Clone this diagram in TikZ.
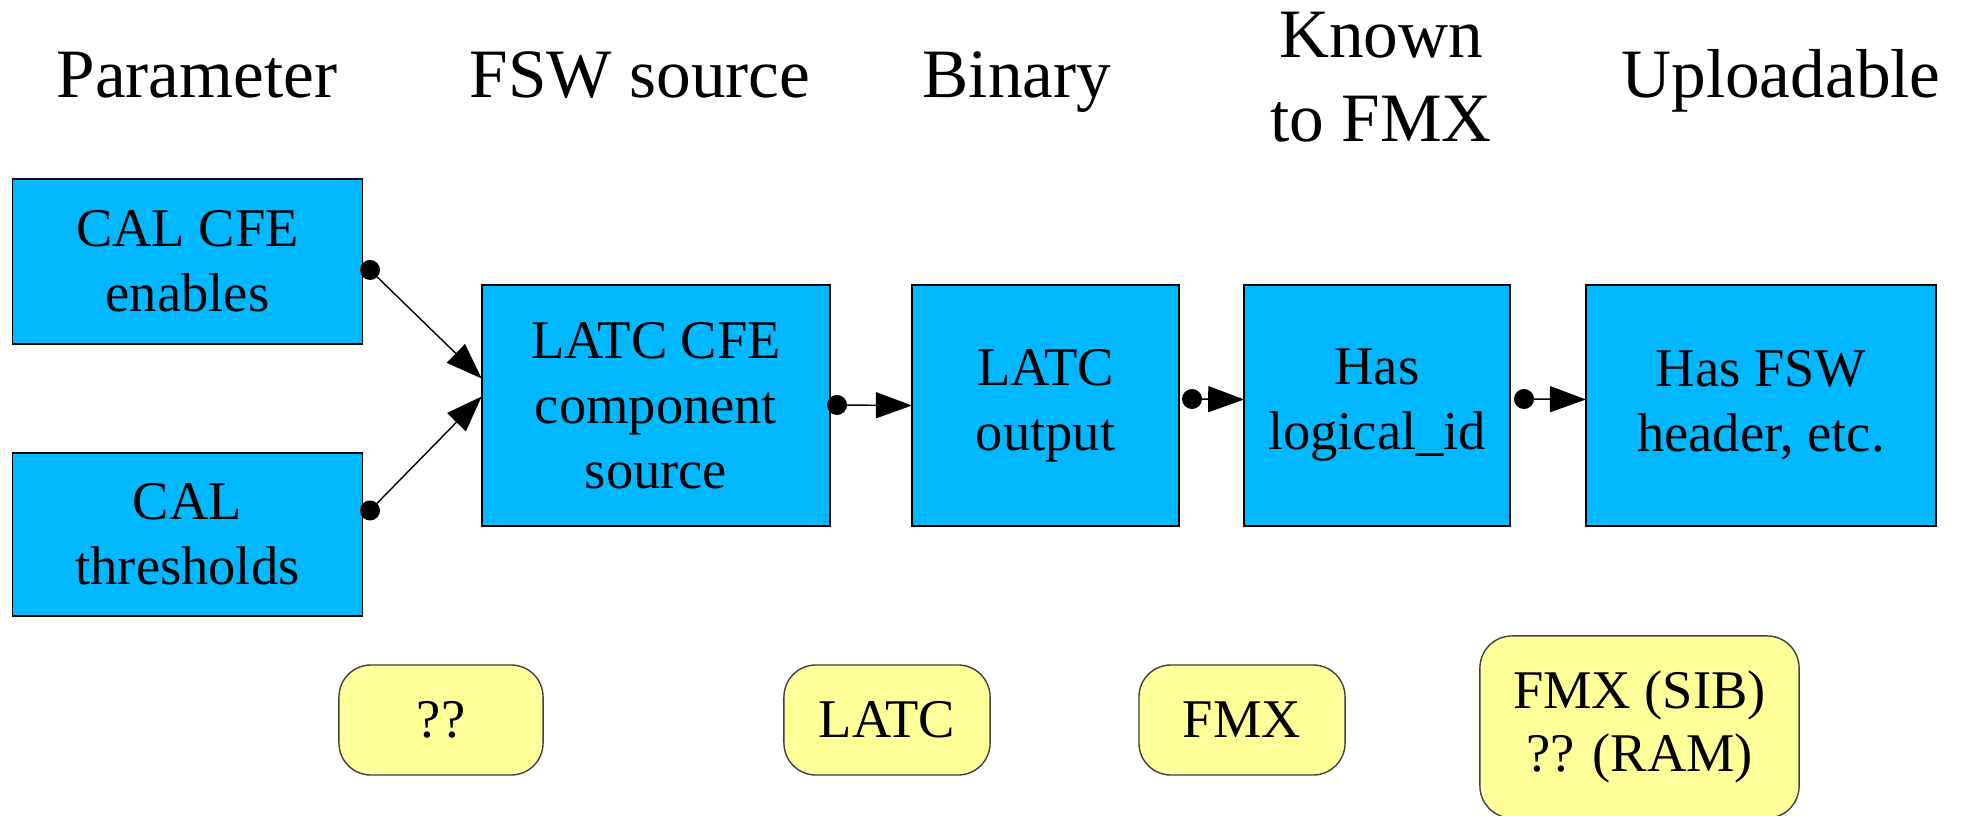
\documentclass[tikz,border=0pt]{standalone}
\usepackage{fontspec}
\setmainfont{Liberation Serif}
\newfontfamily\diagfont{Liberation Serif}
\usetikzlibrary{arrows.meta,calc}
\definecolor{boxblue}{RGB}{0,184,255}
\definecolor{noteyellow}{RGB}{255,255,153}
\begin{document}
\begin{tikzpicture}[x=0.01cm,y=-0.01cm,
 stagebox/.style={draw=black, line width=0.5pt, fill=boxblue, inner sep=0pt, outer sep=0pt, align=center, font=\diagfont\fontsize{15.5pt}{18.5pt}\selectfont},
 tool/.style={draw=black!75, line width=0.4pt, fill=noteyellow, rounded corners=0.32cm, inner sep=0pt, outer sep=0pt, align=center, font=\diagfont\fontsize{15.5pt}{18pt}\selectfont},
 head/.style={inner sep=0pt, align=center, font=\diagfont\fontsize{19.7pt}{24pt}\selectfont},
 conn/.style={line width=0.4pt, -{Triangle[length=0.36cm,width=0.26cm]}}]
\clip (0,0) rectangle (1967,816);
% headers
\node[head, anchor=base] (h1) at (197,98) {Parameter};
\node[head, anchor=base] (h2) at (640,98) {FSW source};
\node[head, anchor=base] (h3) at (1017,98) {Binary};
\node[head] (h4) at (1381,77) {Known\\to FMX};
\node[head, anchor=base] (h5) at (1781,98) {Uploadable};
% stage boxes
\node[stagebox, minimum width=3.5cm, minimum height=1.65cm] (cfe) at (187.5,261.5) {CAL CFE\\enables};
\node[stagebox, minimum width=3.5cm, minimum height=1.63cm] (thr) at (187.5,534.5) {CAL\\thresholds};
\node[stagebox, minimum width=3.485cm, minimum height=2.41cm] (src) at (656,405.5) {LATC CFE\\component\\source};
\node[stagebox, minimum width=2.67cm, minimum height=2.41cm] (bin) at (1045.5,405.5) {LATC\\output};
\node[stagebox, minimum width=2.655cm, minimum height=2.41cm] (fmx) at (1377,405.5) {Has\\logical\_id};
\node[stagebox, minimum width=3.5cm, minimum height=2.41cm] (upl) at (1761,405.5) {Has FSW\\header, etc.};
% tool boxes
\node[tool, minimum width=2.04cm, minimum height=1.1cm] (t1) at (441,720) {??};
\node[tool, minimum width=2.06cm, minimum height=1.1cm] (t2) at (887,720) {LATC};
\node[tool, minimum width=2.06cm, minimum height=1.1cm] (t3) at (1242,720) {FMX};
\node[tool, minimum width=3.19cm, minimum height=1.82cm] (t4) at (1639.5,727) {FMX (SIB)\\?? (RAM)};
% connectors
\coordinate (d1) at (370,270);
\coordinate (d2) at (370,510.5);
\coordinate (d3) at (837,405);
\coordinate (d4) at (1192,399);
\coordinate (d5) at (1524,399);
\draw[conn] (d1) -- ($(src.west)+(0,-27)$);
\draw[conn] (d2) -- ($(src.west)+(0,-9)$);
\draw[conn] (d3) -- (bin.west);
\draw[conn] (d4) -- ($(fmx.west)+(0,-6)$);
\draw[conn] (d5) -- ($(upl.west)+(0,-6)$);
\foreach \d in {d1,d2,d3,d4,d5} \fill (\d) circle[radius=0.1cm];
\end{tikzpicture}
\end{document}
